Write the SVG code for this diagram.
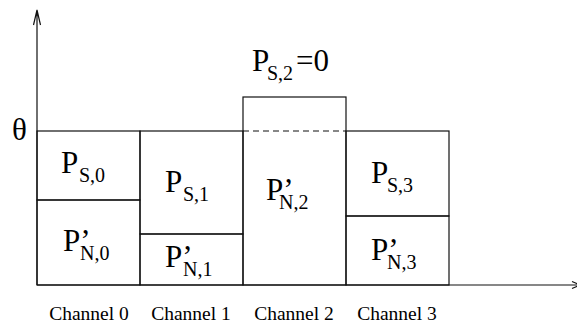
<svg xmlns="http://www.w3.org/2000/svg" width="577" height="328" viewBox="0 0 577 328">
<style>
.b{fill:none;stroke:#111;stroke-width:1.2}
.ax{fill:none;stroke:#111;stroke-width:1.2}
.m{font-family:'Liberation Serif','Times New Roman',serif;font-size:31px;fill:#000}
.s{font-size:20px}
.c{font-family:'Liberation Serif','Times New Roman',serif;font-size:19.5px;fill:#000;text-anchor:middle}
</style>
<rect width="577" height="328" fill="#fff"/>
<g id="connectors">
<path class="ax" d="M37,285 V10 M33.5,25 L37,10 L40.5,25"/>
<path class="ax" d="M37,285 H580 M572,281.5 L580,285 L572,288.5"/>
</g>
<text class="m" font-family="Liberation Serif, serif" x="12" y="140">θ</text>
<g id="ch0_s">
<rect class="b" x="37" y="131" width="103" height="69"/>
<text class="m" font-family="Liberation Serif, serif" x="61" y="173">P<tspan class="s" x="79" dy="9">S,0</tspan></text>
</g>
<g id="ch0_n">
<rect class="b" x="37" y="200" width="103" height="85"/>
<text class="m" font-family="Liberation Serif, serif" x="63" y="251">P’<tspan class="s" x="80" dy="9">N,0</tspan></text>
</g>
<g id="ch1_s">
<rect class="b" x="140" y="131" width="103" height="103"/>
<text class="m" font-family="Liberation Serif, serif" x="165" y="192">P<tspan class="s" x="183" dy="9">S,1</tspan></text>
</g>
<g id="ch1_n">
<rect class="b" x="140" y="234" width="103" height="51"/>
<text class="m" font-family="Liberation Serif, serif" x="165" y="267">P’<tspan class="s" x="183" dy="9">N,1</tspan></text>
</g>
<g id="ch2">
<rect class="b" x="243" y="97" width="103" height="188"/>
<line class="b" x1="243" y1="131" x2="346" y2="131" stroke-dasharray="6,4"/>
<text class="m" font-family="Liberation Serif, serif" x="252" y="71">P<tspan class="s" x="267" dy="9">S,2</tspan><tspan x="296" dy="-9">=0</tspan></text>
<text class="m" font-family="Liberation Serif, serif" x="266" y="200">P’<tspan class="s" x="279" dy="9">N,2</tspan></text>
</g>
<g id="ch3_s">
<rect class="b" x="346" y="131" width="103" height="85"/>
<text class="m" font-family="Liberation Serif, serif" x="371" y="183">P<tspan class="s" x="387" dy="9">S,3</tspan></text>
</g>
<g id="ch3_n">
<rect class="b" x="346" y="216" width="103" height="69"/>
<text class="m" font-family="Liberation Serif, serif" x="371" y="260">P’<tspan class="s" x="387" dy="9">N,3</tspan></text>
</g>
<g id="labels">
<text class="c" font-family="Liberation Serif, serif" x="89" y="320">Channel 0</text>
<text class="c" font-family="Liberation Serif, serif" x="191" y="320">Channel 1</text>
<text class="c" font-family="Liberation Serif, serif" x="294" y="320">Channel 2</text>
<text class="c" font-family="Liberation Serif, serif" x="397" y="320">Channel 3</text>
</g>
</svg>
